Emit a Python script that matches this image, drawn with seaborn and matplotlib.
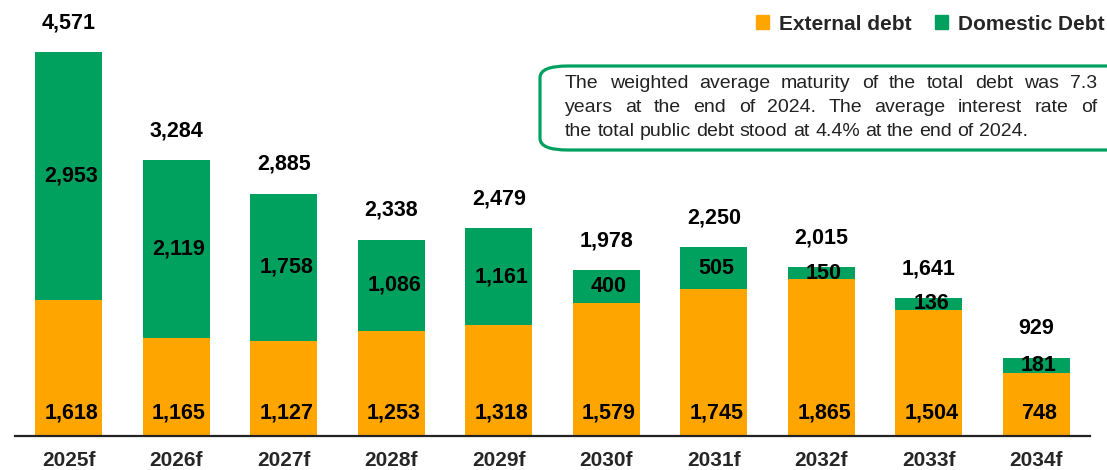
import matplotlib
matplotlib.use("Agg")
import matplotlib.pyplot as plt
from matplotlib.patches import FancyBboxPatch, Patch
import seaborn as sns

# data (USD mn)
years = ["2025f", "2026f", "2027f", "2028f", "2029f", "2030f", "2031f", "2032f", "2033f", "2034f"]
external = [1618, 1165, 1127, 1253, 1318, 1579, 1745, 1865, 1504, 748]
domestic = [2953, 2119, 1758, 1086, 1161, 400, 505, 150, 136, 181]
totals = [4571, 3284, 2885, 2338, 2479, 1978, 2250, 2015, 1641, 929]

note_lines = [
    "The weighted average maturity of the total debt was 7.3",
    "years at the end of 2024. The average interest rate of",
    "the total public debt stood at 4.4% at the end of 2024.",
]

ORANGE = "#FFA500"
GREEN = "#00A05E"
W, H = 1107, 470

sns.set_style("white")
plt.rcParams["font.family"] = ["Liberation Sans", "DejaVu Sans"]

fig = plt.figure(figsize=(W / 100, H / 100), dpi=100)
ax = fig.add_axes([15 / W, 1 - 436 / H, 1075 / W, 436 / H])

stack = [e + d for e, d in zip(external, domestic)]
# green full-height bars, orange external part drawn over them
sns.barplot(x=years, y=stack, color=GREEN, width=0.62, saturation=1, ax=ax, edgecolor="none")
sns.barplot(x=years, y=external, color=ORANGE, width=0.62, saturation=1, ax=ax, edgecolor="none")

ax.set_xlim(-0.5, 9.5)
ax.set_ylim(0, 5190)
ax.set_xlabel("")
ax.set_ylabel("")
ax.set_yticks([])
for s in ["top", "right", "left"]:
    ax.spines[s].set_visible(False)
ax.spines["bottom"].set_color("#222222")
ax.spines["bottom"].set_linewidth(1.6)
ax.tick_params(axis="x", length=0, pad=11, labelsize=15)
for lab in ax.get_xticklabels():
    lab.set_fontweight("bold")

lbl = dict(ha="center", va="center", fontsize=15.5, fontweight="bold", color="black",
           textcoords="offset points")
for i in range(len(years)):
    ax.annotate(f"{external[i]:,}", (i, 0), xytext=(2, 16.5), **lbl)
    ax.annotate(f"{domestic[i]:,}", (i, external[i] + domestic[i] / 2), xytext=(2, 0), **lbl)
    ax.annotate(f"{totals[i]:,}", (i, stack[i]), xytext=(0, 21), **lbl)

# legend
handles = [Patch(color=ORANGE, label="External debt"), Patch(color=GREEN, label="Domestic Debt")]
fig.legend(handles=handles, loc="center right", bbox_to_anchor=(1105 / W, 1 - 24 / H),
           ncol=2, frameon=False, borderpad=0, borderaxespad=0,
           handlelength=0.63, handleheight=0.63, handletextpad=0.5, columnspacing=1.1,
           prop={"size": 15, "weight": "bold", "family": "Liberation Sans"})

# note box
box = FancyBboxPatch((540 / W, 1 - 150 / H), 600 / W, 84 / H,
                     boxstyle="round,pad=0,rounding_size=0.025", transform=fig.transFigure,
                     facecolor="white", edgecolor=GREEN, linewidth=2.3, clip_on=False)
fig.patches.append(box)

renderer = fig.canvas.get_renderer()
x0, x1 = 565, 1097
line_y = [83, 107, 131]
for k, line in enumerate(note_lines):
    words = line.split(" ")
    y = 1 - line_y[k] / H
    parts = [fig.text(0, y, w, fontsize=14, va="center", ha="left", color="#222222") for w in words]
    widths = [p.get_window_extent(renderer).width for p in parts]
    if k < len(note_lines) - 1:
        gap = (x1 - x0 - sum(widths)) / (len(words) - 1)
    else:
        full = fig.text(0, y, line, fontsize=14, va="center")
        gap = (full.get_window_extent(renderer).width - sum(widths)) / (len(words) - 1)
        full.remove()
    x = x0
    for p, w in zip(parts, widths):
        p.set_x(x / W)
        x += w + gap

fig.savefig("out.png", dpi=100)
